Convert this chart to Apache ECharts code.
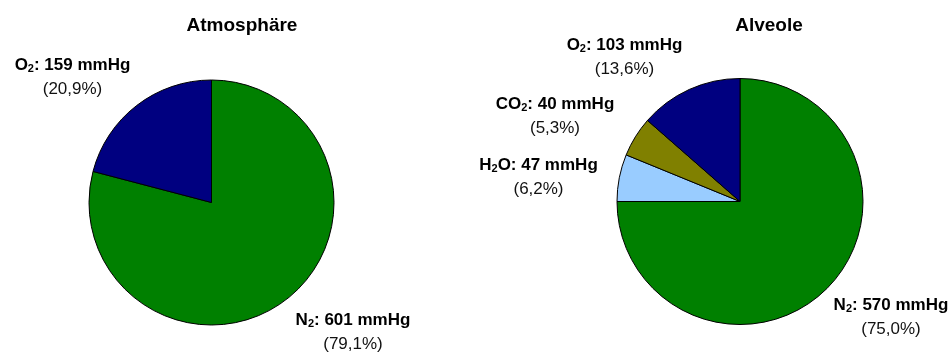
<!DOCTYPE html>
<html>
<head>
<meta charset="utf-8">
<script src="https://cdn.jsdelivr.net/npm/echarts@6/dist/echarts.min.js"></script>
<style>
html,body{margin:0;padding:0;background:#fff;}
#chart{width:951px;height:353px;}
</style>
</head>
<body>
<div id="chart"></div>
<script>
// ---- data ----
const titles = ['Atmosphäre', 'Alveole'];
const atmoGases = ['N', 'O'];
const atmoSubs = ['2', '2'];
const atmoTails = ['', ''];
const atmoValues = [601, 159];
const alvGases = ['N', 'H', 'CO', 'O'];
const alvSubs = ['2', '2', '2', '2'];
const alvTails = ['', 'O', '', ''];
const alvValues = [570, 47, 40, 103];
const unit = 'mmHg';

// ---- styling / layout ----
const atmoColors = ['#008000', '#000080'];
const alvColors = ['#008000', '#99CCFF', '#808000', '#000080'];
const atmoLabelPos = [[353, 332.5], [72.5, 77]];
const alvLabelPos = [[891, 317.5], [538.5, 177.5], [555, 116.5], [624.5, 57.5]];
const FONT = '"Liberation Sans", Arial, sans-serif';

function pct(v, arr) {
  const t = arr.reduce((a, b) => a + b, 0);
  return (v / t * 100).toFixed(1).replace('.', ',');
}
function buildData(gases, subs, tails, values, colors) {
  return values.map((v, i) => ({
    value: v,
    name: gases[i] + subs[i] + tails[i],
    itemStyle: { color: colors[i] },
    label: {
      formatter: '{b|' + gases[i] + '}{s|' + subs[i] + '}{b|' + tails[i] + ': ' + v + ' ' + unit + '}\n{p|(' + pct(v, values) + '%)}'
    }
  }));
}
const rich = {
  b: { fontFamily: FONT, fontWeight: 'bold', fontSize: 17, color: '#000', lineHeight: 24 },
  s: { fontFamily: FONT, fontWeight: 'bold', fontSize: 11, color: '#000', lineHeight: 12, verticalAlign: 'middle', padding: [7, 0, 0, 0] },
  p: { fontFamily: FONT, fontSize: 17, color: '#111', lineHeight: 24 }
};
function makeSeries(data, center, radius, pos) {
  return {
    type: 'pie',
    center: center,
    radius: radius,
    startAngle: 90,
    clockwise: true,
    avoidLabelOverlap: false,
    animation: false,
    silent: true,
    itemStyle: { borderColor: '#000', borderWidth: 1 },
    label: { show: true, position: 'outside', rich: rich, align: 'center' },
    labelLine: { show: false },
    labelLayout: function (p) {
      const q = pos[p.dataIndex];
      return { x: q[0], y: q[1], align: 'center', verticalAlign: 'middle' };
    },
    emphasis: { disabled: true },
    data: data
  };
}

const chart = echarts.init(document.getElementById('chart'), null, { renderer: 'canvas' });
chart.setOption({
  backgroundColor: '#fff',
  animation: false,
  title: [
    { text: titles[0], left: 237, top: 11, textAlign: 'center', textStyle: { fontFamily: FONT, fontWeight: 'bold', fontSize: 19, color: '#000' } },
    { text: titles[1], left: 764, top: 11, textAlign: 'center', textStyle: { fontFamily: FONT, fontWeight: 'bold', fontSize: 19, color: '#000' } }
  ],
  series: [
    makeSeries(buildData(atmoGases, atmoSubs, atmoTails, atmoValues, atmoColors), [211.5, 202.5], 122.5, atmoLabelPos),
    makeSeries(buildData(alvGases, alvSubs, alvTails, alvValues, alvColors), [740, 201.5], 123, alvLabelPos)
  ]
});
</script>
</body>
</html>
